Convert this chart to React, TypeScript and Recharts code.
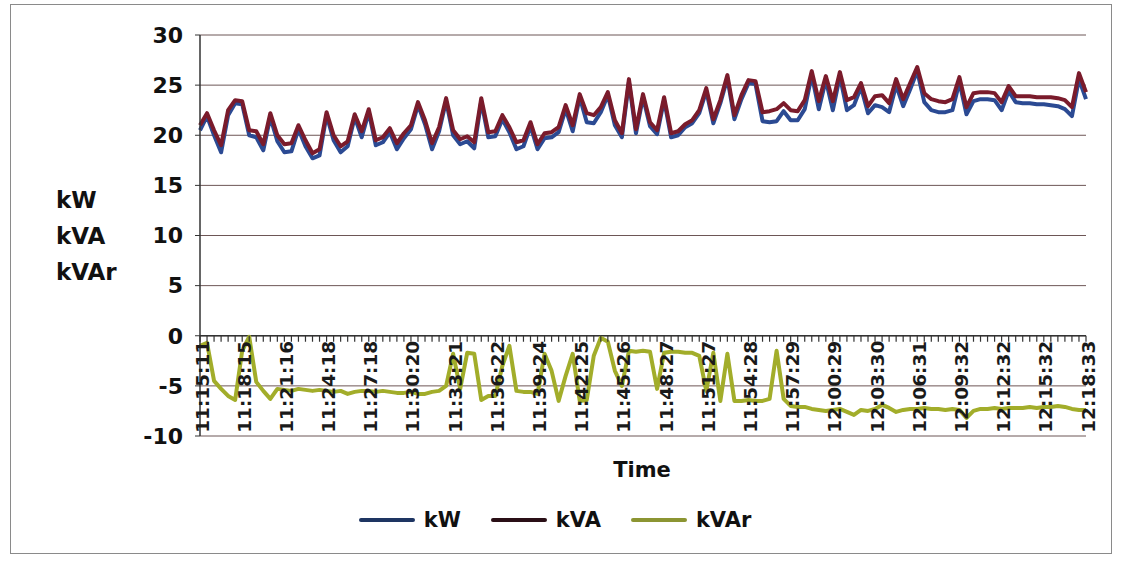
import React from 'react';
import { LineChart, Line, XAxis, YAxis, CartesianGrid, ReferenceLine } from 'recharts';

const timeLabels = [
  '11:15:11', '11:18:15', '11:21:16', '11:24:18', '11:27:18', '11:30:20', '11:33:21', '11:36:22',
  '11:39:24', '11:42:25', '11:45:26', '11:48:27', '11:51:27', '11:54:28', '11:57:29', '12:00:29',
  '12:03:30', '12:06:31', '12:09:32', '12:12:32', '12:15:32', '12:18:33',
];
const POINTS_PER_LABEL = 6;

const kVA = [
  21.0, 22.2, 20.5, 19.0, 22.5, 23.5, 23.4, 20.5, 20.4, 19.1,
  22.2, 20.0, 19.1, 19.2, 21.0, 19.5, 18.2, 18.6, 22.3, 20.0,
  18.9, 19.4, 22.1, 20.4, 22.6, 19.5, 19.8, 20.7, 19.2, 20.2,
  21.0, 23.3, 21.5, 19.2, 20.8, 23.7, 20.5, 19.6, 19.9, 19.3,
  23.7, 20.3, 20.4, 22.0, 20.8, 19.3, 19.5, 21.3, 19.1, 20.2,
  20.3, 20.8, 23.0, 21.0, 24.1, 22.2, 22.0, 22.8, 24.3, 21.5,
  20.2, 25.6, 20.6, 24.1, 21.3, 20.5, 23.8, 20.2, 20.4, 21.1,
  21.5, 22.5, 24.7, 21.6, 23.5, 26.0, 22.0, 24.0, 25.5, 25.4,
  22.3, 22.4, 22.6, 23.2, 22.5, 22.4, 23.5, 26.4, 23.4, 25.9,
  23.4, 26.3, 23.5, 23.8, 25.2, 22.9, 23.9, 24.0, 23.2, 25.6,
  23.6, 25.2, 26.8, 24.2, 23.6, 23.4, 23.3, 23.6, 25.8, 22.8,
  24.2, 24.3, 24.3, 24.2, 23.3, 24.9, 23.9, 23.9, 23.9, 23.8,
  23.8, 23.8, 23.7, 23.5, 22.8, 26.2, 24.3,
];

const kW = [
  20.5, 21.9, 20.0, 18.3, 22.0, 23.2, 23.1, 20.0, 19.8, 18.5,
  21.8, 19.4, 18.3, 18.4, 20.6, 18.9, 17.7, 18.0, 22.0, 19.5,
  18.3, 18.9, 21.8, 19.8, 22.3, 19.0, 19.3, 20.3, 18.6, 19.7,
  20.6, 23.0, 21.1, 18.6, 20.4, 23.4, 20.0, 19.1, 19.4, 18.7,
  23.4, 19.8, 19.9, 21.6, 20.3, 18.6, 18.9, 20.9, 18.6, 19.7,
  19.8, 20.3, 22.6, 20.4, 23.8, 21.3, 21.2, 22.3, 24.0, 21.0,
  19.8, 25.3, 20.2, 23.8, 20.9, 20.1, 23.5, 19.8, 20.0, 20.8,
  21.2, 22.2, 24.4, 21.2, 23.2, 25.7, 21.6, 23.6, 25.2, 25.1,
  21.4, 21.3, 21.4, 22.4, 21.5, 21.5, 22.6, 26.0, 22.6, 25.5,
  22.5, 25.9, 22.5, 23.0, 24.8, 22.2, 23.0, 22.8, 22.3, 25.0,
  22.9, 24.6, 26.4, 23.3, 22.5, 22.3, 22.3, 22.5, 25.3, 22.1,
  23.4, 23.6, 23.6, 23.5, 22.5, 24.4, 23.3, 23.2, 23.2, 23.1,
  23.1, 23.0, 22.9, 22.6, 21.9, 25.6, 23.6,
];

const kVAr = [
  -1.0, -0.7, -4.5, -5.3, -6.0, -6.4, -1.5, -0.1, -4.6, -5.5,
  -6.3, -5.3, -5.4, -5.5, -5.3, -5.4, -5.5, -5.4, -5.5, -5.6,
  -5.5, -5.8, -5.6, -5.5, -5.5, -5.6, -5.5, -5.6, -5.7, -5.7,
  -5.6, -5.8, -5.8, -5.6, -5.5, -5.0, -1.8, -5.3, -1.7, -1.8,
  -6.4, -6.0, -6.0, -3.0, -1.0, -5.5, -5.6, -5.6, -5.8, -1.8,
  -3.5, -6.5, -4.0, -1.8, -6.5, -6.4, -2.0, -0.2, -0.6, -3.5,
  -5.0, -1.5, -1.6, -1.5, -1.6, -5.3, -1.7, -1.6, -1.6, -1.7,
  -1.7, -2.0, -5.5, -1.7, -6.5, -1.8, -6.5, -6.5, -6.4, -6.5,
  -6.5, -6.3, -1.5, -6.3, -7.0, -7.1, -7.1, -7.3, -7.4, -7.5,
  -7.4, -7.3, -7.6, -7.9, -7.4, -7.5, -7.3, -6.9, -7.2, -7.6,
  -7.4, -7.3, -7.3, -7.2, -7.3, -7.3, -7.4, -7.3, -7.4, -8.2,
  -7.5, -7.3, -7.3, -7.2, -7.3, -7.2, -7.2, -7.2, -7.1, -7.2,
  -7.1, -7.1, -7.0, -7.1, -7.3, -7.4, -7.4,
];

const yTicks = [-10, -5, 0, 5, 10, 15, 20, 25, 30];

const data = kVA.map((v, i) => ({ i, kW: kW[i], kVA: v, kVAr: kVAr[i] }));
const xTicks = data.map((d) => d.i);
const lastIndex = data.length - 1;

// layout
const W = 1122;
const H = 565;
const TOP = 35;
const PLOT_BOTTOM = 436;
const LEFT = 200;
const RIGHT = 1086;
const YAXIS_W = 70;
const XAXIS_H = 30;
const Y_MIN = -10;
const Y_MAX = 30;
const ZERO_Y = TOP + (PLOT_BOTTOM - TOP) * (Y_MAX / (Y_MAX - Y_MIN));
const FONT = '"DejaVu Sans", Verdana, sans-serif';

const COLORS = {
  kW: '#2b4a93',
  kVA: '#7a1b2b',
  kVAr: '#a2ad2a',
};
const LEGEND_COLORS = {
  kW: '#1e3562',
  kVA: '#2a0f16',
  kVAr: '#8c9532',
};

const XTick = (props: any) => {
  const { x, payload } = props;
  const i = payload.value as number;
  const showLabel = i % POINTS_PER_LABEL === 0;
  const ly = ZERO_Y + 5;
  return (
    <g>
      <line x1={x} x2={x} y1={ZERO_Y} y2={ZERO_Y + 6} stroke="#333" strokeWidth={1.2} />
      {showLabel && (
        <text
          x={x + 2}
          y={ly}
          transform={`rotate(-90 ${x + 2} ${ly})`}
          textAnchor="end"
          dominantBaseline="central"
          fontSize={18.5}
          fontWeight={700}
          fill="#1a1a1a"
          fontFamily={FONT}
        >
          {timeLabels[i / POINTS_PER_LABEL]}
        </text>
      )}
    </g>
  );
};

const legendItems = [
  { key: 'kW', label: 'kW' },
  { key: 'kVA', label: 'kVA' },
  { key: 'kVAr', label: 'kVAr' },
];

export default function App() {
  return (
    <div style={{ position: 'absolute', left: 0, top: 0, width: W, height: H, background: '#fff', fontFamily: FONT }}>
      <div
        style={{
          position: 'absolute', left: 10, top: 4, width: 1102, height: 550,
          border: '1px solid #8a8a8a', boxSizing: 'border-box',
        }}
      />
      <LineChart
        width={W}
        height={H}
        data={data}
        margin={{ top: TOP, right: W - RIGHT, bottom: H - PLOT_BOTTOM - XAXIS_H, left: LEFT - YAXIS_W }}
      >
        <CartesianGrid vertical={false} stroke="#6d5656" strokeWidth={1} />
        <XAxis
          dataKey="i"
          type="number"
          domain={[0, lastIndex]}
          ticks={xTicks}
          interval={0}
          axisLine={false}
          tickLine={false}
          tick={<XTick />}
          height={XAXIS_H}
        />
        <YAxis
          domain={[Y_MIN, Y_MAX]}
          ticks={yTicks}
          width={YAXIS_W}
          axisLine={{ stroke: '#333', strokeWidth: 1.5 }}
          tickLine={{ stroke: '#333' }}
          tickSize={5}
          tickMargin={12}
          tick={{ fontSize: 22, fontWeight: 700, fill: '#111', fontFamily: FONT }}
          interval={0}
        />
        <ReferenceLine y={0} stroke="#333" strokeWidth={1.5} />
        <Line type="linear" dataKey="kW" stroke={COLORS.kW} strokeWidth={4} dot={false} isAnimationActive={false} strokeLinejoin="round" />
        <Line type="linear" dataKey="kVA" stroke={COLORS.kVA} strokeWidth={4} dot={false} isAnimationActive={false} strokeLinejoin="round" />
        <Line type="linear" dataKey="kVAr" stroke={COLORS.kVAr} strokeWidth={4} dot={false} isAnimationActive={false} strokeLinejoin="round" />
      </LineChart>

      <div
        style={{
          position: 'absolute', left: 56, top: 182, textAlign: 'left',
          fontSize: 23, fontWeight: 700, lineHeight: '36px', color: '#111',
        }}
      >
        <div>kW</div>
        <div>kVA</div>
        <div>kVAr</div>
      </div>

      <div
        style={{
          position: 'absolute', left: 542, top: 458, width: 200, textAlign: 'center',
          fontSize: 21, fontWeight: 700, color: '#111',
        }}
      >
        Time
      </div>

      <div
        style={{
          position: 'absolute', left: 0, top: 508, width: W - 12, display: 'flex',
          justifyContent: 'center', alignItems: 'center', gap: 30,
        }}
      >
        {legendItems.map((it) => (
          <div key={it.key} style={{ display: 'flex', alignItems: 'center', gap: 9 }}>
            <div style={{ width: 56, height: 4, background: (LEGEND_COLORS as any)[it.key], borderRadius: 2 }} />
            <span style={{ fontSize: 21, fontWeight: 700, color: '#111' }}>{it.label}</span>
          </div>
        ))}
      </div>
    </div>
  );
}
